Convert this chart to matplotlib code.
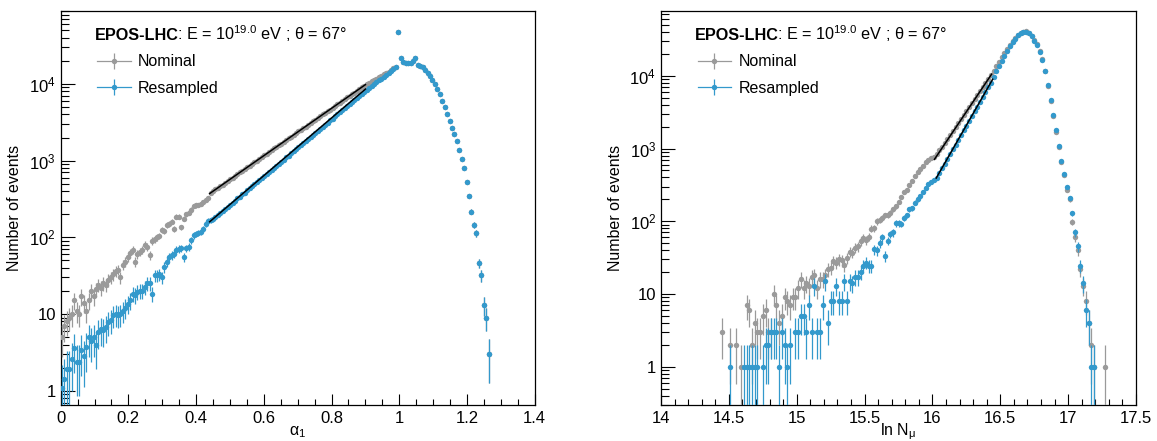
import numpy as np
import matplotlib
matplotlib.use("Agg")
import matplotlib.pyplot as plt
from matplotlib.ticker import MultipleLocator, LogLocator, FuncFormatter, NullFormatter

plt.rcParams['font.family'] = ['Liberation Sans', 'DejaVu Sans']
plt.rcParams['mathtext.fontset'] = 'custom'
plt.rcParams['mathtext.rm'] = 'Liberation Sans'
plt.rcParams['mathtext.it'] = 'Liberation Sans:italic'
plt.rcParams['mathtext.bf'] = 'Liberation Sans:bold'

# ---------------- data: alpha_1 histogram ----------------
alpha_bin_width = 0.0072
alpha_first_center = 0.0036

alpha_nominal_rise = [
    5, 7, 8, 9, 10, 15, 11, 10, 17, 14, 11, 15, 20, 17, 21, 24, 22, 25, 24, 28,
    30, 33, 36, 38, 30, 44, 48, 55, 62, 68, 48, 60, 65, 68, 80, 75, 58, 90, 95, 100,
    105, 125, 120, 145, 150, 160, 130, 185, 185, 135, 175, 200, 210, 230, 255, 260, 265, 270, 290, 310,
    330,
    380, 398, 421, 440, 468, 487, 517, 540, 572, 598,
    635, 662, 703, 735, 778, 813, 862, 900, 955, 998,
    1058, 1105, 1170, 1225, 1297, 1355, 1438, 1500, 1592, 1665,
    1762, 1843, 1952, 2041, 2163, 2262, 2397, 2505, 2655, 2775,
    2940, 3075, 3258, 3405, 3610, 3772, 3998, 4180, 4428, 4630,
    4905, 5130, 5433, 5680, 6020, 6295, 6668, 6970, 7385, 7720,
    8180, 8555, 9060, 9480,
    9900, 10300, 10800, 11200, 11700, 12200, 12700, 13300, 13900, 14500, 15200, 15900, 16700,
]
alpha_resampled_rise = [
    1.1, 1.4, 1.9, 1.9, 2.6, 3.6, 2.4, 2.4, 3.4, 2.8, 3.7, 5.0, 4.5, 5.0, 3.9, 5.9, 6.4, 6.2, 6.8, 7.9,
    8.3, 9.6, 10, 9.6, 10, 11, 12, 13.7, 15, 18.5, 17.6, 19.4, 20, 20, 22.5, 25, 25, 18.5, 32, 32,
    33, 30, 41, 48, 55, 58, 61, 68, 70, 72, 55, 72, 75, 91, 106, 112, 115, 117, 130, 150,
    165,
    168, 173, 182, 196, 206, 221, 233, 250, 264, 283,
    299, 321, 338, 362, 383, 410, 433, 464, 490, 524,
    555, 593, 628, 671, 710, 759, 804, 858, 909, 970,
    1028, 1099, 1163, 1243, 1316, 1406, 1489, 1590, 1685, 1799,
    1905, 2036, 2156, 2303, 2438, 2606, 2759, 2947, 3121, 3334,
    3530, 3771, 3994, 4266, 4518, 4826, 5110, 5458, 5782, 6176,
    6540, 6985, 7400, 7900,
    8400, 8900, 9400, 9900, 10500, 11100, 11700, 12400, 13100, 13800, 14600, 15500, 16400,
]
# bins above alpha_1 ~ 1 (identical for both samples)
alpha_tail = [
    47000, 22000, 19500, 19000, 18800, 19000, 19800, 22000,
    17800, 17300, 16600, 15400, 14000, 12600, 11200, 9900, 8700, 7300,
    6000, 5000, 4100, 3300, 2700, 2250, 1800, 1380, 1050, 790,
    520, 345, 216, 146, 113, 46, 32, 13, 9, 3,
]

# ---------------- data: ln N_mu histogram ----------------
lnN_bin_width = 0.02
lnN_first_center = 14.43
lnN_nominal = [
    0, 3, 0, 0, 2, 0, 2, 0, 1, 0,
    7, 6, 2, 4, 3, 3, 5, 6, 3, 3,
    10, 7, 4, 5, 9, 8, 7, 9, 9, 12,
    16, 12, 14, 13, 17, 18, 12, 16, 16, 18,
    22, 23, 28, 27, 30, 29, 25, 31, 38, 37,
    43, 45, 53, 59, 55, 61, 79, 81, 100, 104,
    112, 120, 123, 131, 146, 160, 185, 215, 250, 272,
    317, 352, 415, 470, 530, 580, 650, 700, 730, 760,
    830, 940, 1060, 1200, 1360, 1540, 1750, 1990, 2260, 2570,
    2920, 3310, 3760, 4270, 4850, 5500, 6250, 7100, 8050, 9150,
    10400, 11600, 13500, 15500, 18000, 20500, 23500, 26500, 30000, 33500,
    36500, 39000, 40500, 41000, 38500, 35500, 31000, 27000, 22000, 17000,
    11500, 7200, 4500, 2800, 1700, 1050, 650, 430, 270, 200,
    98, 60, 40, 22, 13, 8, 4, 2, 1, 0,
    0, 0, 1,
]
lnN_resampled = [
    0, 0, 0, 0, 1, 0, 0, 0, 0, 1,
    1, 1, 1, 1, 1, 0, 1, 2, 2, 3,
    3, 3, 1, 3, 2, 1, 2, 0, 3, 3,
    5, 5, 3, 7, 3, 13, 3, 3, 7, 15,
    4, 8, 8, 13, 8, 8, 15, 8, 15, 14,
    17, 17, 20, 24, 27, 24, 24, 41, 40, 50,
    60, 33, 54, 66, 70, 94, 94, 92, 110, 120,
    145, 150, 180, 200, 225, 255, 290, 320, 345, 370,
    395, 460, 535, 620, 720, 840, 975, 1135, 1320, 1530,
    1780, 2070, 2410, 2800, 3250, 3780, 4400, 5110, 5940, 6910,
    8030, 9500, 11500, 13800, 16200, 19000, 22000, 25500, 29000, 32500,
    36000, 38500, 40000, 40500, 38500, 35000, 30500, 26500, 21500, 16500,
    11500, 7500, 4600, 2900, 1800, 1100, 680, 450, 300, 210,
    128, 70, 45, 24, 14, 6, 4, 1, 1, 0,
    0, 0, 0,
]

# exponential fits: log10(N) = intercept + slope * x over [lo, hi]
alpha_fit_range = (0.44, 0.90)
alpha_fit_nominal = (1.212, 3.087)
alpha_fit_resampled = (0.548, 3.76)
lnN_fit_range_nominal = (16.015, 16.436)
lnN_fit_range_resampled = (16.028, 16.444)
lnN_fit_nominal = (-41.67, 2.78)
lnN_fit_resampled = (-49.77, 3.267)

labels = ["Nominal", "Resampled"]
c_nom = '#9a9a9a'
c_res = '#3399cc'

W, H = 1157, 441
fig = plt.figure(figsize=(W / 100, H / 100), dpi=100)
ax1 = fig.add_axes([60.7 / W, 35.7 / H, 474 / W, 394.6 / H])
ax2 = fig.add_axes([661 / W, 35.7 / H, 475 / W, 394.6 / H])

MS = 3.9


def centers(first, width, n):
    return first + width * np.arange(n)


def draw_hist(ax, x, y, color, z):
    y = np.asarray(y, float)
    m = y > 0
    ax.errorbar(x[m], y[m], yerr=np.sqrt(y[m]), fmt='o', ms=MS, mew=0,
                color=color, ecolor=color, elinewidth=0.9, capsize=0, zorder=z)


def draw_fit(ax, rng, par):
    xs = np.linspace(rng[0], rng[1], 50)
    ax.plot(xs, 10 ** (par[0] + par[1] * xs), color='black', lw=1.1, zorder=10)


def log_fmt(v, pos):
    e = int(round(np.log10(v)))
    if e == 0:
        return "1"
    if e == 1:
        return "10"
    return r"$\mathrm{10}^{\mathrm{%d}}$" % e


# left panel
a_nom = list(alpha_nominal_rise) + list(alpha_tail)
a_res = list(alpha_resampled_rise) + list(alpha_tail)
xa = centers(alpha_first_center, alpha_bin_width, len(a_nom))
draw_hist(ax1, xa, a_nom, c_nom, 3)
draw_hist(ax1, xa, a_res, c_res, 4)
draw_fit(ax1, alpha_fit_range, alpha_fit_nominal)
draw_fit(ax1, alpha_fit_range, alpha_fit_resampled)

# right panel
xl = centers(lnN_first_center, lnN_bin_width, len(lnN_nominal))
draw_hist(ax2, xl, lnN_nominal, c_nom, 3)
draw_hist(ax2, xl, lnN_resampled, c_res, 4)
draw_fit(ax2, lnN_fit_range_nominal, lnN_fit_nominal)
draw_fit(ax2, lnN_fit_range_resampled, lnN_fit_resampled)

ax1.set_xlim(0, 1.4)
ax1.set_ylim(0.645, 9.0e4)
ax2.set_xlim(14, 17.5)
ax2.set_ylim(0.294, 7.86e4)

for ax, maj, mnr, xlabel in [(ax1, 0.2, 0.05, r"$\mathrm{\alpha}_{\mathrm{1}}$"),
                              (ax2, 0.5, 0.1, r"ln $\mathrm{N}_{\mathrm{\mu}}$")]:
    ax.set_yscale('log')
    ax.xaxis.set_major_locator(MultipleLocator(maj))
    ax.xaxis.set_minor_locator(MultipleLocator(mnr))
    ax.xaxis.set_major_formatter(FuncFormatter(lambda v, p: "%g" % round(v, 3)))
    ax.yaxis.set_major_locator(LogLocator(base=10))
    ax.yaxis.set_minor_locator(LogLocator(base=10, subs=np.arange(2, 10)))
    ax.yaxis.set_major_formatter(FuncFormatter(log_fmt))
    ax.yaxis.set_minor_formatter(NullFormatter())
    ax.tick_params(which='both', direction='in', top=False, right=False,
                   width=0.8, labelsize=12, color='black')
    ax.tick_params(axis='x', which='major', length=8, pad=4)
    ax.tick_params(axis='x', which='minor', length=4)
    ax.tick_params(axis='y', which='major', length=10, pad=3.5)
    ax.tick_params(axis='y', which='minor', length=5.5)
    for s in ax.spines.values():
        s.set_linewidth(0.9)
        s.set_color('black')
    ax.set_xlabel(xlabel, fontsize=11.5, va='center')
    ax.xaxis.set_label_coords(0.5, -0.068)
    ax.set_ylabel("Number of events", fontsize=11.5, va='center')
    ax.yaxis.set_label_coords(-0.0965, 0.5)

    # legend proxies
    hn = ax.errorbar([np.nan], [np.nan], yerr=[np.nan], fmt='-o', ms=MS, mew=0,
                     color=c_nom, ecolor=c_nom, lw=0.9, elinewidth=0.9, capsize=0)
    hr = ax.errorbar([np.nan], [np.nan], yerr=[np.nan], fmt='-o', ms=MS, mew=0,
                     color=c_res, ecolor=c_res, lw=0.9, elinewidth=0.9, capsize=0)
    ax.legend([hn, hr], labels, loc='upper left', bbox_to_anchor=(0.077, 0.890),
              frameon=False, fontsize=11.5, handlelength=2.1, handletextpad=0.45,
              borderpad=0, borderaxespad=0, labelspacing=0.72)

fig.canvas.draw()
for ax in (ax1, ax2):
    t1 = ax.text(0.072, 0.925, "EPOS-LHC", fontweight='bold', fontsize=11.7,
                 transform=ax.transAxes, va='baseline', ha='left')
    fig.canvas.draw()
    bb = t1.get_window_extent()
    x_end = ax.transAxes.inverted().transform((bb.x1 - 2.0, bb.y0))[0]
    ax.text(x_end, 0.925, r": E = $\mathrm{10}^{\mathrm{19.0}}$ eV ; θ = 67°", fontsize=11.7,
            transform=ax.transAxes, va='baseline', ha='left')

fig.savefig("out.png", dpi=100)
